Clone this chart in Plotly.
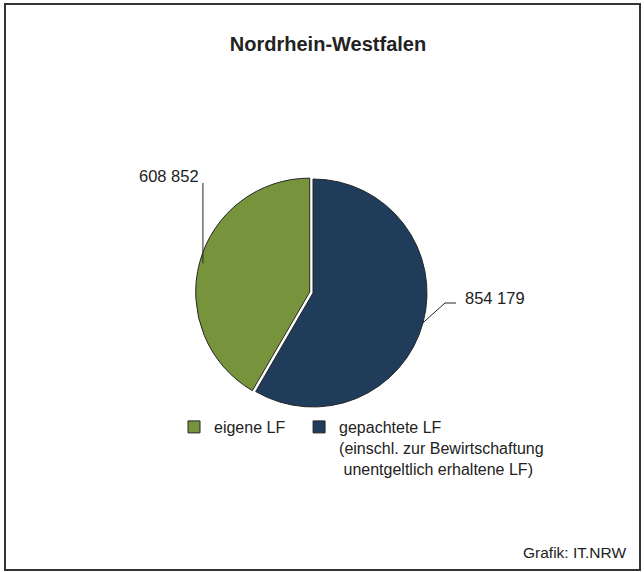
import math
import plotly.graph_objects as go

# Landwirtschaftlich genutzte Fläche nach Eigentumsform
labels = ["eigene LF",
          "gepachtete LF<br>(einschl. zur Bewirtschaftung<br>\u00a0unentgeltlich erhaltene LF)"]
values = [608852, 854179]
colors = ["#77933C", "#1F3D5B"]
pulls = [0.03, 0]

W, H = 644, 572
FONT = "Liberation Sans, Arial, sans-serif"

# pie placement in pixels
cx, cy, r = 313, 293, 114
half = r * (1 + max(pulls))


def px(x):
    return x / W


def py(y):
    return 1 - y / H


total = sum(values)
fracs = [v / total for v in values]

# legend spacing: pad the first entry a little
legend_labels = [labels[0] + "\u00a0\u00a0", labels[1]]

fig = go.Figure()
fig.add_trace(go.Pie(
    labels=legend_labels,
    values=values,
    sort=False,
    direction="clockwise",
    rotation=-360 * fracs[0],   # first slice ends at 12 o'clock
    pull=pulls,
    marker=dict(colors=colors, line=dict(color="#262626", width=1)),
    textinfo="none",
    hoverinfo="label+value",
    domain=dict(x=[px(cx - half), px(cx + half)],
                y=[py(cy + half), py(cy - half)]),
))

# mid angles (counter-clockwise from top) for the leader lines
start = 0.0
mids = []
for f in fracs:
    mids.append(start + f / 2)
    start += f


def rim(frac_ccw):
    a = frac_ccw * 2 * math.pi
    return cx - r * math.sin(a), cy - r * math.cos(a)


def fmt(v):
    return f"{v:,}".replace(",", " ")


shapes = []
annotations = []
line_style = dict(color="#262626", width=1)

# eigene LF: vertical leader line up to the label
x0, y0 = rim(mids[0])
shapes.append(dict(type="line", xref="paper", yref="paper",
                   x0=px(x0), y0=py(y0), x1=px(x0), y1=py(183), line=line_style))
annotations.append(dict(text=fmt(values[0]), xref="paper", yref="paper",
                        x=px(x0 - 2), y=py(176), xanchor="right", yanchor="middle",
                        showarrow=False, font=dict(size=16.5, color="#222")))

# gepachtete LF: bent leader line to the right
x0, y0 = rim(mids[1])
shapes.append(dict(type="path", xref="paper", yref="paper",
                   path=f"M {px(x0)},{py(y0)} L {px(445)},{py(303)} L {px(456)},{py(303)}",
                   line=line_style))
annotations.append(dict(text=fmt(values[1]), xref="paper", yref="paper",
                        x=px(463), y=py(298), xanchor="left", yanchor="middle",
                        showarrow=False, font=dict(size=16.5, color="#222")))

# source note
annotations.append(dict(text="Grafik: IT.NRW", xref="paper", yref="paper",
                        x=px(628), y=py(552), xanchor="right", yanchor="middle",
                        showarrow=False, font=dict(size=15.5, color="#222")))

# outer frame
shapes.append(dict(type="rect", xref="paper", yref="paper",
                   x0=px(5), y0=py(570), x1=px(640), y1=py(4),
                   line=dict(color="#333333", width=2)))

fig.update_layout(
    width=W, height=H,
    margin=dict(l=0, r=0, t=0, b=0),
    paper_bgcolor="white",
    font=dict(family=FONT, color="#222"),
    title=dict(text="<b>Nordrhein-Westfalen</b>", x=px(328), xanchor="center",
               y=py(44), yanchor="middle", font=dict(size=20, color="#222")),
    legend=dict(orientation="h", x=px(174), y=py(410), xanchor="left", yanchor="top",
                valign="top", font=dict(size=16, color="#222"), traceorder="normal"),
    shapes=shapes,
    annotations=annotations,
)

fig.write_html("out.html", config={"displayModeBar": False},
               post_script="document.body.style.margin='0';")
